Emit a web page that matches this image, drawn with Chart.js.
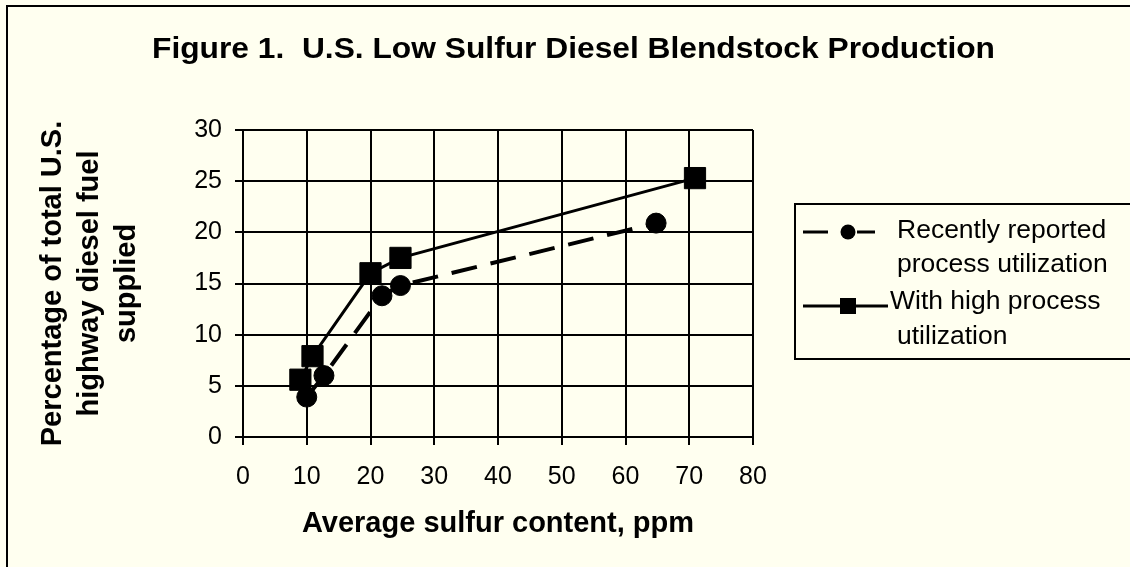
<!DOCTYPE html>
<html>
<head>
<meta charset="utf-8">
<script src="https://cdn.jsdelivr.net/npm/chart.js@4.4.1/dist/chart.umd.min.js"></script>
<style>
  html, body { margin: 0; padding: 0; background: #FFFFF0; }
  #wrap { width: 1130px; height: 567px; }
</style>
</head>
<body>
<div id="wrap"><canvas id="sulfurChart" width="1130" height="567"></canvas></div>
<script>
// values
const reportedX = [10, 12.7, 21.8, 24.7, 64.8];
const reportedY = [3.9, 6.0, 13.8, 14.8, 20.9];
const highX = [9.0, 10.9, 20.0, 24.7, 70.9];
const highY = [5.6, 7.9, 16.0, 17.5, 25.3];
const seriesNames = [['Recently reported', 'process utilization'], ['With high process', 'utilization']];
const xTicks = [0, 10, 20, 30, 40, 50, 60, 70, 80];
const yTicks = [0, 5, 10, 15, 20, 25, 30];

const chartTitle = 'Figure 1.  U.S. Low Sulfur Diesel Blendstock Production';
const FONT = '"Liberation Sans", Arial, sans-serif';

function toPoints(xs, ys) {
    return xs.map((x, i) => ({ x: x, y: ys[i] }));
}

// cream background
const backgroundPlugin = {
    id: 'background',
    beforeDraw(chart) {
        const ctx = chart.ctx;
        ctx.save();
        ctx.fillStyle = '#FFFFF0';
        ctx.fillRect(0, 0, chart.width, chart.height);
        ctx.restore();
    }
};

// outer frame, title and the boxed legend
const decorPlugin = {
    id: 'decor',
    afterDraw(chart) {
        const ctx = chart.ctx;
        ctx.save();

        // frame (runs off the right and bottom edges)
        ctx.strokeStyle = '#000';
        ctx.lineWidth = 2;
        ctx.strokeRect(7, 6, 1200, 700);

        // title, stretched a little to the width of the original lettering
        ctx.fillStyle = '#000';
        ctx.font = 'bold 30px ' + FONT;
        ctx.textAlign = 'left';
        ctx.textBaseline = 'alphabetic';
        const w = ctx.measureText(chartTitle).width;
        ctx.save();
        ctx.translate(152, 58);
        ctx.scale(843 / w, 1);
        ctx.fillText(chartTitle, 0, 0);
        ctx.restore();

        // legend box
        ctx.strokeRect(795, 204, 400, 155);

        const ds = chart.data.datasets;
        // item 1: dashed line with circle
        ctx.lineWidth = 3;
        ctx.beginPath();
        ctx.moveTo(803, 232); ctx.lineTo(828, 232);
        ctx.moveTo(857, 232); ctx.lineTo(875, 232);
        ctx.stroke();
        ctx.fillStyle = ds[0].pointBackgroundColor;
        ctx.beginPath();
        ctx.arc(848, 232, 7.5, 0, Math.PI * 2);
        ctx.fill();

        // item 2: solid line with square
        ctx.beginPath();
        ctx.moveTo(803, 306); ctx.lineTo(888, 306);
        ctx.stroke();
        ctx.fillStyle = ds[1].pointBackgroundColor;
        ctx.fillRect(840, 298, 16, 16);

        ctx.fillStyle = '#000';
        ctx.font = '26.5px ' + FONT;
        ctx.fillText(seriesNames[0][0], 897, 238);
        ctx.fillText(seriesNames[0][1], 897, 272);
        ctx.fillText(seriesNames[1][0], 890, 309);
        ctx.fillText(seriesNames[1][1], 897, 344);
        ctx.restore();
    }
};

const ctx = document.getElementById('sulfurChart').getContext('2d');
const sulfurChart = new Chart(ctx, {
    type: 'line',
    data: {
        datasets: [{
            label: seriesNames[0].join(' '),
            data: toPoints(reportedX, reportedY),
            borderColor: '#000',
            borderWidth: 4,
            borderDash: [26, 14],
            pointStyle: 'circle',
            pointRadius: 10,
            pointBackgroundColor: '#000',
            pointBorderColor: '#000',
            pointBorderWidth: 1,
            tension: 0,
            fill: false
        }, {
            label: seriesNames[1].join(' '),
            data: toPoints(highX, highY),
            borderColor: '#000',
            borderWidth: 3,
            pointStyle: 'rect',
            pointRadius: 15,
            pointBackgroundColor: '#000',
            pointBorderColor: '#000',
            pointBorderWidth: 1,
            tension: 0,
            fill: false
        }]
    },
    options: {
        responsive: false,
        animation: false,
        devicePixelRatio: 1,
        layout: {
            padding: { left: 8, right: 377, top: 130, bottom: 0 }
        },
        plugins: {
            legend: { display: false },
            title: { display: false },
            tooltip: { enabled: false }
        },
        scales: {
            x: {
                type: 'linear',
                min: 0,
                max: 80,
                afterBuildTicks: s => { s.ticks = xTicks.map(v => ({ value: v })); },
                afterFit: s => { s.height = 130; },
                grid: { color: '#000', lineWidth: 2, tickLength: 8, tickColor: '#000', tickWidth: 2 },
                border: { color: '#000', width: 2 },
                ticks: { color: '#000', padding: 17, maxRotation: 0, font: { family: FONT, size: 25 } },
                title: {
                    display: true,
                    text: 'Average sulfur content, ppm',
                    color: '#000',
                    font: { family: FONT, size: 29, weight: 'bold' },
                    padding: { top: 0, bottom: 26 }
                }
            },
            y: {
                min: 0,
                max: 30,
                afterBuildTicks: s => { s.ticks = yTicks.map(v => ({ value: v })); },
                afterFit: s => { s.width = 235; },
                grid: { color: '#000', lineWidth: 2, tickLength: 8, tickColor: '#000', tickWidth: 2 },
                border: { color: '#000', width: 2 },
                ticks: { color: '#000', padding: 13, font: { family: FONT, size: 25 } },
                title: {
                    display: true,
                    text: ['Percentage of total U.S.', 'highway diesel fuel', 'supplied'],
                    color: '#000',
                    font: { family: FONT, size: 29, weight: 'bold', lineHeight: 1.27 },
                    padding: { top: 26.5, bottom: 0 }
                }
            }
        }
    },
    plugins: [backgroundPlugin, decorPlugin]
});
</script>
</body>
</html>
